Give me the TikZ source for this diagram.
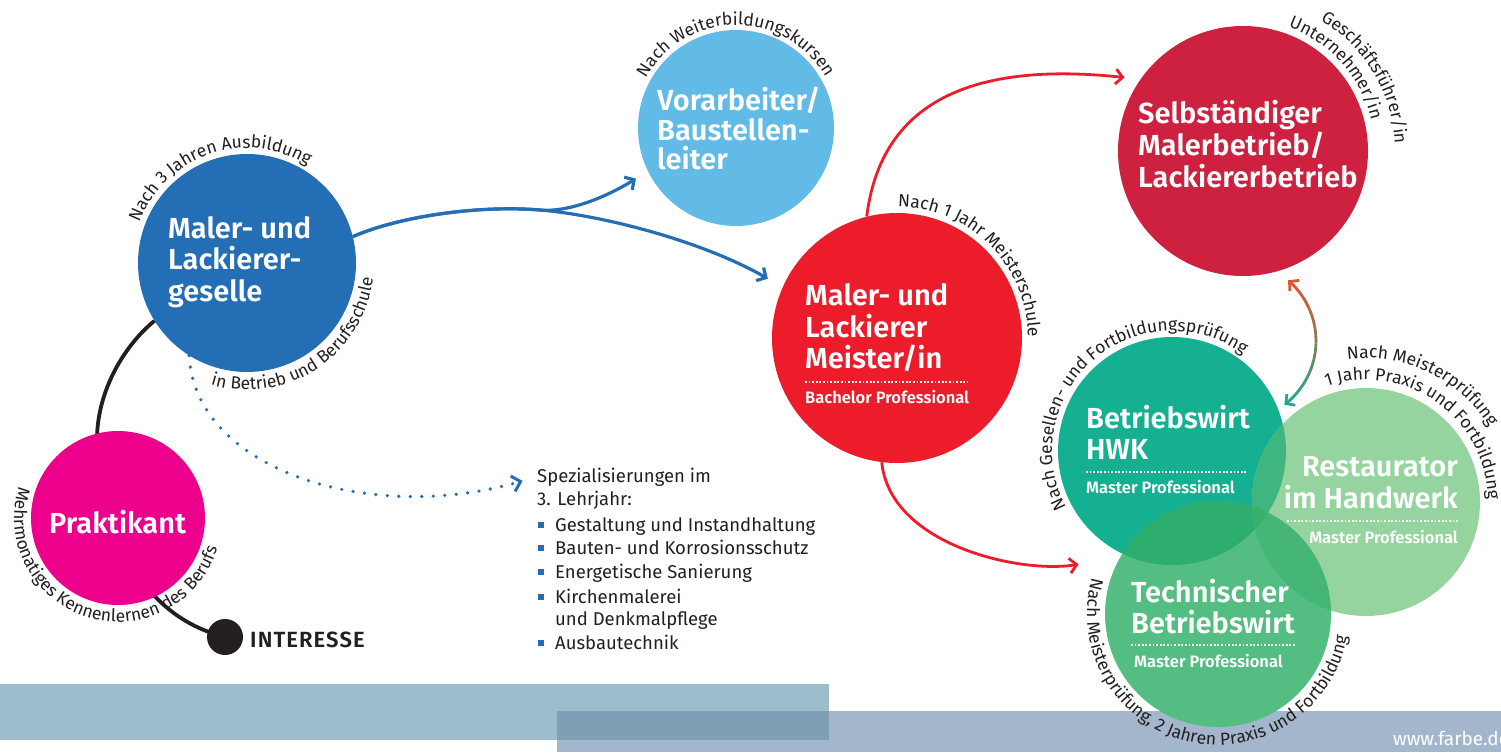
\documentclass[tikz,border=0pt]{standalone}
\usepackage{fontspec}
\setmainfont{Fira Sans}[BoldFont={Fira Sans SemiBold}]
\newfontfamily\arcfont{Fira Sans}
\newfontfamily\intfont{Fira Sans SemiBold}[LetterSpace=5]
\usetikzlibrary{arrows.meta,decorations.text}

\definecolor{txt}{HTML}{231F20}
\definecolor{cBlue}{HTML}{236EB5}
\definecolor{cLBlue}{HTML}{62BBE7}
\definecolor{cMag}{HTML}{EC008C}
\definecolor{cRed}{HTML}{ED1C2B}
\definecolor{cCrim}{HTML}{CD213F}
\definecolor{cTeal}{HTML}{15B092}
\definecolor{cLGreen}{HTML}{95D49F}
\definecolor{cGreen}{HTML}{53BD82}
\definecolor{ovHR}{HTML}{3FB57F}
\definecolor{ovHT}{HTML}{2DAE6E}
\definecolor{ovRT}{HTML}{45B676}
\definecolor{ovHRT}{HTML}{38B16E}
\definecolor{bandA}{HTML}{9BBDCC}
\definecolor{bandB}{HTML}{A3B6CB}
\definecolor{bandAB}{HTML}{7E9FB4}
\definecolor{gOr}{HTML}{E2532F}
\definecolor{gTe}{HTML}{1FAA8C}

\tikzset{
  circ/.style={circle, inner sep=0pt, minimum size=#1},
  ttl/.style={anchor=base west, inner sep=0pt, text=white, font=\bfseries\fontsize{29}{31}\selectfont},
  ttlr/.style={ttl, anchor=base east},
  subttl/.style={anchor=base west, inner sep=0pt, text=white, font=\bfseries\fontsize{16.5}{18}\selectfont},
  subttlr/.style={subttl, anchor=base east},
  wdots/.style={draw=white, line width=1.8pt, dash pattern=on 1.8pt off 1.8pt},
  lst/.style={anchor=base west, inner sep=0pt, text=txt, font=\fontsize{18.5}{22}\selectfont},
  bul/.style={rectangle, fill=cBlue, minimum size=5.5pt, inner sep=0pt},
  arctext/.style={decorate, decoration={text along path, text align=center, text color=txt, text={|\arcfont\fontsize{17.5}{20}\selectfont|#1}}},
  barrow/.style={draw=cBlue, line width=3.2pt, -{Straight Barb[length=7pt,width=15pt]}},
  rarrow/.style={draw=cRed, line width=2.8pt, -{Straight Barb[length=7pt,width=15pt]}},
  darrow/.style={draw=cBlue, line width=3.6pt, line cap=round, dash pattern=on 0pt off 11.5pt, -{Straight Barb[length=8pt,width=16pt,line width=3pt]}},
  blk/.style={draw=txt, line width=3.8pt},
  garc/.style={line width=2.8pt},
}

\begin{document}
\begin{tikzpicture}[x=1pt,y=1pt]
\useasboundingbox (0,0) rectangle (1501,-752);
\clip (0,0) rectangle (1501,-752);

% bands
\fill[bandA] (0,-684) rectangle (829,-740);
\fill[bandB] (557,-711) rectangle (1501,-752);
\fill[bandAB] (557,-711) rectangle (829,-740);
\node[anchor=base west, inner sep=0pt, text=white, font=\fontsize{19}{20}\selectfont] (www) at (1393,-745) {www.farbe.de};

% circles
\node[circ=218pt, fill=cBlue] (G) at (247,-263) {};
\node[circ=196pt, fill=cLBlue] (V) at (736,-128) {};
\node[circ=250pt, fill=cRed] (M) at (897,-338) {};
\node[circ=250pt, fill=cCrim] (S) at (1243,-151) {};
\node[circ=36pt, fill=txt] (I) at (225,-637) {};

% black connector behind Praktikant
\draw[blk] (I.center) .. controls (190,-628) and (165,-610) .. (145,-585) -- (97,-440) .. controls (97,-390) and (125,-345) .. (G.212);

\node[circ=174pt, fill=cMag] (P) at (118,-518) {};

% green circles
\node[circ=228pt, fill=cTeal] (H) at (1172,-451) {};
\node[circ=228pt, fill=cLGreen] (R) at (1366,-502) {};
\node[circ=226pt, fill=cGreen] (T) at (1218,-614) {};
\begin{scope}
  \clip (H.center) circle[radius=114];
  \fill[ovHR] (R.center) circle[radius=114];
  \fill[ovHT] (T.center) circle[radius=113];
\end{scope}
\begin{scope}
  \clip (R.center) circle[radius=114];
  \fill[ovRT] (T.center) circle[radius=113];
  \clip (H.center) circle[radius=114];
  \fill[ovHRT] (T.center) circle[radius=113];
\end{scope}

% titles
\node[ttl] (P1) at (49,-533) {Praktikant};
\node[ttl] (G1) at (168,-238) {Maler- und};
\node[ttl] (G2) at (168,-269) {Lackierer-};
\node[ttl] (G3) at (168,-301) {geselle};
\node[ttl] (V1) at (657,-110) {Vorarbeiter/};
\node[ttl] (V2) at (657,-140) {Baustellen-};
\node[ttl] (V3) at (657,-169) {leiter};
\node[ttl] (M1) at (805,-305) {Maler- und};
\node[ttl] (M2) at (805,-337) {Lackierer};
\node[ttl] (M3) at (805,-368) {Meister/in};
\draw[wdots] (805,-382) -- (968,-382);
\node[subttl] (M4) at (805,-403) {Bachelor Professional};
\node[ttl] (S1) at (1138,-123) {Selbständiger};
\node[ttl] (S2) at (1138,-155) {Malerbetrieb/};
\node[ttl] (S3) at (1138,-187) {Lackiererbetrieb};
\node[ttl] (H1) at (1086,-428) {Betriebswirt};
\node[ttl] (H2) at (1086,-459) {HWK};
\draw[wdots] (1086,-472) -- (1246,-472);
\node[subttl] (H3) at (1086,-493) {Master Professional};
\node[ttlr] (R1) at (1458,-476) {Restaurator};
\node[ttlr] (R2) at (1458,-508) {im Handwerk};
\draw[wdots] (1287,-521) -- (1458,-521);
\node[subttlr] (R3) at (1458,-543) {Master Professional};
\node[ttl] (T1) at (1131,-602) {Technischer};
\node[ttl] (T2) at (1131,-633) {Betriebswirt};
\draw[wdots] (1131,-645) -- (1295,-645);
\node[subttl] (T3) at (1134,-667) {Master Professional};

\node[anchor=base west, inner sep=0pt, text=txt, font=\intfont\fontsize{22}{23}\selectfont] (int) at (250,-647) {INTERESSE};

% list
\node[lst] (spez1) at (537,-482) {Spezialisierungen im};
\node[lst] (spez2) at (537,-505) {3. Lehrjahr:};
\node[lst] (L1) at (555,-531) {Gestaltung und Instandhaltung};
\node[lst] (L2) at (555,-554) {Bauten- und Korrosionsschutz};
\node[lst] (L3) at (555,-578) {Energetische Sanierung};
\node[lst] (L4) at (555,-603) {Kirchenmalerei};
\node[lst] (L5) at (555,-625) {und Denkmalpflege};
\node[lst] (L6) at (555,-649) {Ausbautechnik};
\node[bul] (b1) at (541,-525) {};
\node[bul] (b2) at (541,-548) {};
\node[bul] (b3) at (541,-572) {};
\node[bul] (b4) at (541,-597) {};
\node[bul] (b5) at (541,-643) {};

% arrows
\coordinate (J) at (540,-210);
\draw[barrow, shorten >=14pt] (G.14) .. controls (400,-216) and (480,-205) .. (J) .. controls (575,-213) and (618,-190) .. (V.206);
\draw[barrow, shorten >=17pt] (G.14) .. controls (400,-216) and (480,-205) .. (J) .. controls (600,-215) and (700,-240) .. (M.156);
\draw[rarrow, shorten >=16pt] (M.104.6) .. controls (880,-110) and (960,-60) .. (S.145);
\draw[rarrow, shorten >=42pt] (M.263.5) .. controls (890,-545) and (1020,-574) .. (T.150);
\draw[darrow, shorten >=15pt] (G.238) .. controls (195,-470) and (370,-525) .. (spez1.west);

% gradient double arrow between S and H
\coordinate (C) at (1236,-341);
\draw[garc, draw=gOr, {Straight Barb[length=6.5pt,width=14pt]}-] ([shift={(49.4:80)}]C) arc[start angle=49.4, end angle=36.625, radius=80];
\foreach \k in {1,...,6}{
  \pgfmathsetmacro\aa{49.4-12.775*\k}
  \pgfmathsetmacro\ab{\aa-12.775}
  \pgfmathsetmacro\pp{100-100*\k/7}
  \draw[garc, draw=gOr!\pp!gTe] ([shift={(\aa:80)}]C) arc[start angle=\aa, end angle=\ab, radius=80];
}
\draw[garc, draw=gTe, -{Straight Barb[length=6.5pt,width=14pt]}] ([shift={(-40.025:80)}]C) arc[start angle=-40.025, end angle=-52.8, radius=80];

% curved texts
\path[arctext={Nach 3 Jahren Ausbildung}] ([shift={(183.75:115)}]G.center) arc[start angle=183.75, end angle=33.75, radius=115];
\path[arctext={in Betrieb und Berufsschule}] ([shift={(-131.8:127)}]G.center) arc[start angle=-131.8, end angle=18.2, radius=127];
\path[arctext={Mehrmonatiges Kennenlernen des Berufs}] ([shift={(132.75:104)}]P.center) arc[start angle=132.75, end angle=372.75, radius=104];
\path[arctext={Nach Weiterbildungskursen}] ([shift={(170.25:103)}]V.center) arc[start angle=170.25, end angle=10.25, radius=103];
\path[arctext={Nach 1 Jahr Meisterschule}] ([shift={(115:131)}]M.center) arc[start angle=115, end angle=-25, radius=131];
\path[arctext={Geschäftsführer/in}] ([shift={(81:152)}]S.center) arc[start angle=81, end angle=-19, radius=152];
\path[arctext={Unternehmer/in}] ([shift={(91.7:132)}]S.center) arc[start angle=91.7, end angle=-8.3, radius=132];
\path[arctext={Nach Gesellen- und Fortbildungsprüfung}] ([shift={(230.9:120)}]H.center) arc[start angle=230.9, end angle=30.9, radius=120];
\path[arctext={Nach Meisterprüfung}] ([shift={(124.3:144)}]R.center) arc[start angle=124.3, end angle=4.3, radius=144];
\path[arctext={1 Jahr Praxis und Fortbildung}] ([shift={(140:122)}]R.center) arc[start angle=140, end angle=-30, radius=122];
\path[arctext={Nach Meisterprüfung{,} 2 Jahren Praxis und Fortbildung}] ([shift={(127:131)}]T.center) arc[start angle=127, end angle=387, radius=131];
\end{tikzpicture}
\end{document}
